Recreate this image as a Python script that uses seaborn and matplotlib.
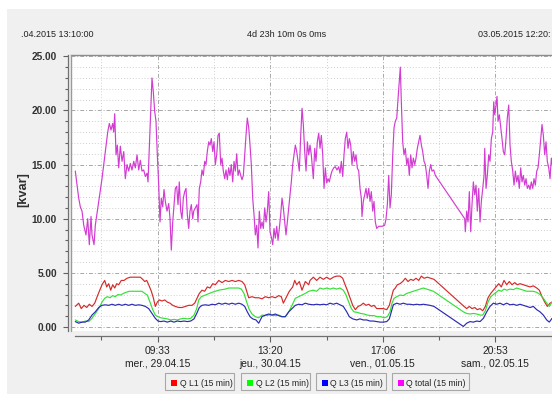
import numpy as np
import pandas as pd
import matplotlib
matplotlib.use("Agg")
import matplotlib.pyplot as plt
from matplotlib.patches import Rectangle
from matplotlib.lines import Line2D
from matplotlib.ticker import FixedLocator, FixedFormatter, MultipleLocator, FormatStrFormatter
import seaborn as sns

sns.set_theme(style="white")
plt.rcParams["font.family"] = ["Liberation Sans", "DejaVu Sans"]

# ---------------------------------------------------------------------------
# Reactive power, 15-minute averages. Time axis: hours since 28.04.2015 13:10
# ---------------------------------------------------------------------------
period_start = ".04.2015 13:10:00"
period_span = "4d 23h 10m 0s 0ms"
period_end = "03.05.2015 12:20:"
period_hours = 119.17

# Q total -------------------------------------------------------------------
qt_hours_a = [0.07, 0.91, 1.31, 1.73, 2.15, 2.71, 3.13, 3.53, 3.95, 4.19,
              4.69, 5.01, 5.85, 6.66, 7.48, 8.07, 8.46, 8.88, 9.30, 9.55,
              9.80, 10.12, 10.44, 10.78, 11.18, 11.60, 12.02, 12.41, 12.83, 13.25,
              13.64, 14.06, 14.48, 14.88, 15.30, 15.72, 16.11, 16.53, 16.95, 17.35,
              17.76, 18.01, 18.33, 18.75, 18.99, 19.32, 19.66, 19.98, 20.31, 20.65,
              20.97, 21.29, 21.64, 21.96, 22.28, 22.70, 23.12, 23.44, 23.76, 24.11,
              24.43, 24.75, 25.09, 25.41, 25.73, 26.08, 26.40, 26.72, 27.07, 27.39,
              27.71, 28.05, 28.37, 28.70, 29.04]
qt_kvar_a = [14.4, 11.9, 11.1, 10.7, 9.4, 8.5, 10.0, 7.6, 10.2, 8.5,
             7.6, 9.4, 11.6, 13.7, 16.2, 18.0, 18.8, 18.2, 18.8, 18.0,
             19.7, 15.9, 16.8, 14.7, 16.7, 15.3, 16.2, 13.7, 15.0, 14.4,
             15.1, 14.5, 15.3, 14.7, 15.9, 14.5, 15.4, 14.4, 14.5, 13.9,
             14.2, 13.4, 16.5, 20.5, 23.0, 21.7, 19.9, 19.0, 15.9, 13.1,
             9.7, 11.9, 11.1, 12.7, 11.6, 10.7, 11.4, 10.0, 7.1, 9.7,
             11.3, 12.8, 13.0, 11.3, 13.4, 10.7, 10.0, 11.9, 12.5, 12.8,
             10.4, 9.1, 10.7, 11.3, 10.0]
qt_hours_b = [29.29, 29.68, 30.10, 30.35, 30.67, 31.01, 31.33, 31.66, 32.00, 32.32,
              32.64, 32.99, 33.31, 33.63, 33.98, 34.30, 34.62, 34.96, 35.28, 35.60,
              35.95, 36.27, 36.59, 36.94, 37.26, 37.58, 37.92, 38.24, 38.56, 38.91,
              39.23, 39.55, 39.90, 40.22, 40.54, 40.88, 41.20, 41.53, 41.87, 42.19,
              42.51, 42.86, 43.18, 43.50, 43.84, 44.16, 44.49, 44.83, 45.15, 45.47,
              45.82, 46.14, 46.46, 46.81, 47.13, 47.45, 47.79, 48.11, 48.44, 48.78,
              49.10, 49.42, 49.77, 50.09, 50.41, 50.75, 51.07, 51.40, 51.74, 52.06,
              52.38, 52.73, 53.05, 53.37, 53.71, 54.03, 54.36, 54.70, 55.02, 55.34,
              55.69, 56.01, 56.33, 56.67, 57.00, 57.32, 57.66, 57.98, 58.30]
qt_kvar_b = [10.7, 11.0, 11.3, 9.7, 12.8, 13.4, 14.5, 14.0, 15.3, 15.0,
             16.2, 17.1, 16.8, 17.4, 16.2, 17.1, 15.0, 15.9, 17.7, 17.9,
             15.0, 15.6, 14.4, 13.7, 14.5, 13.6, 14.7, 14.0, 15.0, 13.4,
             15.3, 14.4, 16.0, 14.0, 14.5, 14.0, 13.6, 14.0, 15.9, 17.7,
             19.3, 18.4, 16.8, 15.0, 11.9, 10.4, 8.5, 9.4, 7.3, 10.7,
             9.1, 9.7, 9.1, 11.0, 9.7, 10.7, 12.5, 8.8, 8.3, 7.6,
             9.1, 8.2, 9.3, 8.0, 9.1, 10.4, 11.9, 11.0, 9.7, 8.5,
             9.7, 11.0, 12.2, 13.4, 15.0, 15.9, 16.8, 16.2, 15.3, 14.4,
             17.7, 20.2, 18.7, 16.2, 14.4, 17.1, 15.9, 16.8, 15.9]
qt_hours_c = [58.80, 59.14, 59.46, 59.78, 60.13, 60.45, 60.77, 61.12, 61.44, 61.76,
              62.10, 62.42, 62.74, 63.09, 63.41, 63.83, 64.22, 64.64, 65.06, 65.38,
              65.71, 66.05, 66.37, 66.69, 67.04, 67.36, 67.68, 68.02, 68.34, 68.67,
              69.01, 69.33, 69.65, 70.00, 70.32, 70.64, 70.81, 71.13, 71.48, 71.80,
              72.12, 72.47, 72.79, 73.11, 73.45, 73.77, 74.09, 74.44, 74.93, 75.75,
              76.41, 76.74, 77.06, 77.40, 77.72, 78.04, 78.39, 78.71, 79.03, 79.38,
              79.70, 80.02, 80.26, 80.51, 80.85, 81.17, 81.50, 81.84, 82.16, 82.48,
              82.83, 83.15, 83.47, 83.82, 84.14, 84.46, 84.80, 85.12, 85.45, 85.79,
              86.11, 86.43, 86.78, 87.10, 87.42, 87.76, 88.08, 88.50, 88.90]
qt_kvar_c = [13.7, 16.5, 15.3, 17.1, 17.9, 16.5, 17.7, 15.9, 12.8, 14.7,
             13.3, 13.7, 13.4, 14.0, 14.4, 14.7, 14.8, 14.5, 14.8, 14.2,
             15.3, 13.9, 15.9, 17.4, 18.0, 16.5, 17.4, 16.8, 15.0, 16.2,
             15.3, 15.9, 14.7, 14.4, 12.8, 11.9, 10.2, 11.6, 12.2, 12.8,
             11.9, 12.8, 11.6, 12.5, 10.7, 11.6, 9.7, 9.1, 9.3, 9.3,
             9.4, 10.0, 11.3, 14.0, 11.0, 12.2, 15.9, 18.4, 19.0, 19.3,
             21.1, 22.7, 24.0, 20.8, 17.1, 15.9, 16.5, 15.0, 15.6, 14.0,
             15.9, 14.7, 15.6, 15.0, 15.6, 16.5, 17.1, 17.7, 16.8, 16.2,
             15.3, 15.0, 14.0, 12.8, 14.4, 15.0, 14.4, 14.5, 14.0]
qt_hours_d = [96.15, 96.30, 96.64, 96.96, 97.29, 97.63, 97.95, 98.28, 98.62, 98.94,
              99.26, 99.61, 99.93, 100.25, 100.60, 100.92, 101.09, 101.41, 101.73, 102.07,
              102.39, 102.72, 103.06, 103.31, 103.56, 103.88, 104.12, 104.37, 104.69, 105.03,
              105.35, 105.68, 106.02, 106.34, 106.66, 107.01, 107.33, 107.65, 108.00, 108.32,
              108.64, 108.98, 109.30, 109.62, 109.97, 110.29, 110.61, 110.96, 111.28, 111.60,
              111.94, 112.26, 112.58, 112.93, 113.25, 113.57, 113.92, 114.24, 114.56, 114.90,
              115.22, 115.55, 115.89, 116.21, 116.53, 116.88, 117.20, 117.52, 117.86]
qt_kvar_d = [10.0, 8.8, 10.7, 9.7, 12.5, 8.8, 11.3, 13.4, 12.2, 13.1,
             10.7, 12.8, 9.7, 11.6, 12.8, 14.0, 16.5, 12.8, 14.0, 15.9,
             15.3, 17.4, 18.0, 20.8, 19.6, 20.5, 21.3, 19.0, 19.6, 18.5,
             17.4, 16.2, 15.9, 17.4, 19.3, 20.5, 16.8, 15.3, 14.4, 13.1,
             14.4, 13.4, 14.0, 12.8, 14.7, 13.4, 14.0, 13.1, 13.7, 12.8,
             13.1, 12.7, 13.4, 12.8, 13.7, 13.1, 14.4, 14.7, 15.9, 17.4,
             18.7, 17.7, 15.9, 17.1, 15.3, 14.7, 13.7, 15.6, 14.7]

# Q L1 ----------------------------------------------------------------------
l1_hours = [0.07, 0.91, 1.55, 2.22, 2.89, 3.53, 4.19, 4.86, 5.67, 6.66,
            7.33, 7.82, 8.31, 8.81, 9.30, 9.80, 10.29, 10.78, 11.42, 12.09,
            12.83, 13.64, 14.48, 15.30, 16.11, 16.70, 17.20, 17.69, 18.18, 18.83,
            19.32, 19.81, 20.31, 20.80, 21.47, 22.13, 22.77, 23.44, 24.11, 24.75,
            25.59, 26.40, 27.21, 28.05, 28.87, 29.53, 30.18, 30.67, 31.33, 32.00,
            32.64, 33.31, 33.98, 34.62, 35.46, 36.27, 37.08, 37.92, 38.74, 39.55,
            40.39, 41.20, 41.87, 42.36, 42.86, 43.67, 44.49, 45.32, 46.14, 46.95,
            47.79, 48.61, 49.42, 50.26, 50.90, 51.40, 52.06, 52.87, 53.71, 54.21,
            54.70, 55.34, 56.01, 56.82, 57.66, 57.98, 58.80, 59.63, 60.45, 61.26,
            62.10, 62.92, 63.73, 64.56, 65.38, 66.05, 66.54, 67.18, 67.85, 68.52,
            69.16, 69.83, 70.49, 71.13, 71.80, 72.47, 73.11, 73.77, 74.44, 75.25,
            76.07, 76.91, 77.55, 78.04, 78.54, 79.03, 79.52, 80.19, 80.85, 81.50,
            82.16, 82.83, 83.47, 84.14, 84.80, 85.45, 86.11, 86.93, 87.76, 88.58,
            95.98, 96.64, 97.29, 97.95, 98.62, 99.26, 99.93, 100.60, 101.24, 101.90,
            102.57, 103.21, 103.88, 104.54, 105.18, 105.85, 106.51, 107.16, 107.82, 108.49,
            109.13, 109.80, 110.61, 111.45, 112.26, 113.08, 113.92, 114.56, 115.22, 115.89,
            116.53, 117.20, 117.69]
l1_kvar = [1.9, 2.2, 1.7, 2.0, 1.8, 2.1, 1.9, 2.2, 3.0, 3.9,
           4.3, 3.7, 4.0, 3.4, 3.9, 3.6, 4.0, 3.9, 4.3, 4.3,
           4.5, 4.6, 4.6, 4.6, 4.6, 4.4, 4.2, 4.3, 3.9, 3.3,
           2.7, 1.9, 2.3, 2.5, 2.4, 2.5, 2.3, 2.2, 2.0, 1.9,
           1.8, 1.8, 1.9, 2.0, 2.0, 2.2, 2.7, 3.1, 3.4, 3.3,
           3.7, 3.6, 4.0, 3.9, 4.3, 4.1, 4.3, 4.2, 4.3, 4.2,
           4.3, 4.2, 3.9, 3.3, 2.7, 2.8, 2.7, 2.7, 2.6, 2.8,
           2.7, 2.8, 2.7, 2.9, 2.8, 2.2, 2.7, 3.3, 3.7, 4.3,
           3.9, 4.2, 3.4, 4.2, 3.9, 4.3, 4.6, 4.3, 4.6, 4.4,
           4.6, 4.4, 4.6, 4.7, 4.7, 4.5, 4.0, 3.4, 2.7, 2.0,
           1.6, 1.9, 2.0, 2.2, 2.0, 2.1, 1.9, 2.0, 1.7, 1.7,
           1.7, 1.6, 2.0, 2.7, 3.4, 3.6, 3.9, 4.0, 4.2, 4.5,
           4.2, 4.4, 4.3, 4.5, 4.3, 4.7, 4.5, 4.6, 4.5, 4.4,
           1.9, 1.7, 1.9, 1.7, 1.8, 1.6, 1.7, 1.5, 1.9, 2.7,
           3.1, 3.4, 3.7, 4.0, 3.7, 4.3, 3.9, 4.2, 3.9, 4.1,
           3.9, 4.0, 3.9, 3.8, 3.7, 3.8, 3.6, 3.4, 2.8, 2.3,
           1.9, 2.2, 2.3]

# Q L2 ----------------------------------------------------------------------
l2_hours = [0.07, 0.91, 1.73, 2.54, 3.38, 4.19, 5.01, 5.85, 6.66, 7.33,
            7.97, 8.64, 9.30, 9.94, 10.61, 11.28, 11.92, 12.58, 13.40, 14.24,
            15.05, 15.86, 16.53, 17.20, 17.84, 18.50, 19.17, 19.81, 20.48, 21.15,
            21.96, 22.77, 23.61, 24.43, 25.24, 26.08, 26.89, 27.71, 28.55, 29.36,
            30.03, 30.52, 31.16, 31.83, 32.49, 33.14, 33.80, 34.62, 35.46, 36.27,
            37.08, 37.92, 38.74, 39.55, 40.39, 41.03, 41.70, 42.36, 43.01, 43.67,
            44.49, 45.32, 46.14, 46.95, 47.79, 48.61, 49.42, 50.26, 51.07, 51.89,
            52.73, 53.54, 54.36, 55.19, 56.01, 56.82, 57.66, 58.80, 59.63, 60.45,
            61.26, 62.10, 62.92, 63.73, 64.56, 65.38, 66.20, 66.87, 67.53, 68.18,
            68.84, 69.65, 70.49, 71.31, 72.12, 72.96, 73.77, 74.59, 75.43, 76.24,
            77.06, 77.72, 78.21, 78.71, 79.38, 80.19, 81.01, 81.84, 82.66, 83.47,
            84.31, 85.12, 85.94, 86.78, 87.59, 88.42, 95.82, 96.64, 97.46, 98.28,
            99.11, 99.93, 100.60, 101.24, 101.90, 102.57, 103.21, 103.88, 104.54, 105.18,
            105.85, 106.51, 107.33, 108.15, 108.98, 109.80, 110.61, 111.45, 112.26, 113.08,
            113.92, 114.73, 115.55, 116.38, 117.02, 117.69]
l2_kvar = [0.65, 0.5, 0.45, 0.55, 0.5, 0.8, 1.25, 1.7, 2.3, 2.65,
           2.8, 2.7, 2.9, 2.8, 3.0, 2.95, 3.1, 3.2, 3.3, 3.3,
           3.3, 3.3, 3.3, 3.1, 2.95, 2.3, 1.6, 1.1, 0.95, 0.85,
           0.8, 0.75, 0.65, 0.7, 0.65, 0.75, 0.8, 0.75, 0.8, 1.1,
           1.7, 2.5, 2.8, 2.9, 3.0, 3.1, 3.2, 3.3, 3.4, 3.45,
           3.5, 3.6, 3.6, 3.6, 3.6, 3.5, 3.1, 2.3, 1.6, 1.2,
           0.95, 0.85, 1.1, 1.05, 1.1, 1.1, 1.05, 1.1, 0.95, 0.95,
           1.4, 2.0, 2.65, 2.8, 2.95, 3.1, 3.3, 3.4, 3.3, 3.6,
           3.5, 3.6, 3.5, 3.6, 3.5, 3.6, 3.4, 2.95, 2.3, 1.7,
           1.4, 1.35, 1.25, 1.2, 1.1, 1.05, 1.05, 0.95, 0.95, 0.85,
           0.95, 1.4, 2.2, 2.65, 2.8, 2.95, 2.9, 3.1, 3.2, 3.3,
           3.4, 3.5, 3.6, 3.5, 3.4, 3.3, 1.4, 1.25, 1.2, 1.25,
           1.2, 1.1, 1.1, 1.5, 2.3, 2.8, 3.0, 3.2, 3.4, 3.3,
           3.5, 3.4, 3.5, 3.45, 3.6, 3.5, 3.4, 3.3, 3.3, 3.3,
           3.2, 3.0, 2.65, 2.2, 1.9, 2.3]

# Q L3 ----------------------------------------------------------------------
l3_hours = [0.07, 0.91, 1.73, 2.54, 3.38, 4.19, 5.01, 5.85, 6.66, 7.48,
            8.31, 9.13, 9.94, 10.78, 11.60, 12.41, 13.25, 14.06, 14.88, 15.72,
            16.53, 17.35, 18.18, 19.00, 19.81, 20.48, 21.15, 21.96, 22.77, 23.61,
            24.43, 25.24, 26.08, 26.89, 27.71, 28.55, 29.36, 30.03, 30.67, 31.33,
            32.15, 32.99, 33.80, 34.62, 35.46, 36.27, 37.08, 37.92, 38.74, 39.55,
            40.39, 41.20, 41.87, 42.51, 43.18, 43.84, 44.65, 45.32, 46.14, 46.95,
            47.79, 48.61, 49.42, 50.26, 51.07, 51.89, 52.73, 53.54, 54.36, 55.19,
            56.01, 56.82, 57.66, 58.80, 59.63, 60.45, 61.26, 62.10, 62.92, 63.73,
            64.56, 65.38, 66.20, 67.04, 67.68, 68.52, 69.50, 70.32, 71.13, 71.97,
            72.79, 73.60, 74.44, 75.25, 76.07, 76.91, 77.55, 78.04, 78.54, 79.38,
            80.19, 81.01, 81.84, 82.66, 83.47, 84.31, 85.12, 85.94, 86.78, 87.59,
            88.58, 95.82, 96.64, 97.46, 98.28, 99.11, 99.93, 100.76, 101.58, 102.39,
            103.21, 104.04, 104.86, 105.68, 106.51, 107.33, 108.15, 108.98, 109.80, 110.61,
            111.45, 112.26, 113.08, 113.92, 114.73, 115.55, 116.38, 117.02, 117.69]
l3_kvar = [0.5, 0.35, 0.45, 0.45, 0.65, 1.1, 1.4, 1.8, 2.0, 2.05,
           2.0, 2.1, 2.0, 2.1, 2.0, 2.1, 2.0, 2.1, 2.0, 2.05,
           2.0, 1.9, 1.7, 1.25, 0.8, 0.55, 0.5, 0.55, 0.45, 0.55,
           0.45, 0.55, 0.5, 0.55, 0.5, 0.55, 0.75, 1.25, 1.8, 2.0,
           2.05, 2.0, 2.1, 2.05, 2.2, 2.1, 2.2, 2.1, 2.2, 2.1,
           2.2, 2.1, 1.9, 1.4, 0.95, 0.75, 0.65, 0.35, 0.95, 1.1,
           1.2, 1.1, 1.2, 1.05, 0.95, 0.95, 1.4, 1.7, 2.0, 2.1,
           2.05, 2.2, 2.1, 2.05, 2.1, 2.05, 2.1, 2.05, 2.2, 2.1,
           2.2, 2.05, 1.9, 1.4, 0.95, 0.75, 0.65, 0.75, 0.65, 0.65,
           0.55, 0.55, 0.5, 0.45, 0.45, 0.5, 0.75, 1.4, 2.05, 2.2,
           2.1, 2.2, 2.1, 2.1, 2.05, 2.1, 2.05, 2.1, 2.05, 2.0,
           1.9, 0.05, 0.35, 0.5, 0.45, 0.55, 0.5, 0.8, 1.4, 1.9,
           2.2, 2.1, 2.2, 2.05, 2.2, 2.05, 2.1, 2.0, 2.1, 2.0,
           1.9, 1.8, 1.9, 1.6, 1.4, 1.1, 0.65, 0.45, 0.8]

series_names = ["Q L1 (15 min)", "Q L2 (15 min)", "Q L3 (15 min)", "Q total (15 min)"]
line_colors = ["#d42a2a", "#35e035", "#2a2ab4", "#d23cd2"]
key_colors = ["#ff0000", "#00ff00", "#0000ff", "#ff00ff"]

# x tick positions (hours since start) and their labels
major_hours = [20.39, 48.17, 75.94, 103.72]
major_labels = ["09:33\nmer., 29.04.15", "13:20\njeu., 30.04.15",
                "17:06\nven., 01.05.15", "20:53\nsam., 02.05.15"]
minor_hours = [6.50, 34.28, 62.06, 89.83, 117.61]

# ---------------------------------------------------------------------------
frames = [
    pd.DataFrame({"hours": l1_hours, "kvar": l1_kvar, "series": series_names[0]}),
    pd.DataFrame({"hours": l2_hours, "kvar": l2_kvar, "series": series_names[1]}),
    pd.DataFrame({"hours": l3_hours, "kvar": l3_kvar, "series": series_names[2]}),
    pd.DataFrame({"hours": qt_hours_a + qt_hours_b + qt_hours_c + qt_hours_d,
                  "kvar": qt_kvar_a + qt_kvar_b + qt_kvar_c + qt_kvar_d,
                  "series": series_names[3]}),
]
df = pd.concat(frames, ignore_index=True)

W, H = 552, 394
fig = plt.figure(figsize=(W / 100, H / 100), dpi=100)
fig.patch.set_facecolor("white")


def fx(px):
    return px / W


def fy(py):
    return 1 - py / H


# light grey panel behind the chart
fig.add_artist(Rectangle((fx(7), 0), fx(W - 7), (H - 9) / H, transform=fig.transFigure,
                         facecolor="#f0f0f0", edgecolor="none", zorder=0))

ax = fig.add_axes([fx(71), fy(331), (560 - 71) / W, (331 - 55) / H])
ax.set_facecolor("white")

sns.lineplot(data=df, x="hours", y="kvar", hue="series", hue_order=series_names,
             palette=dict(zip(series_names, line_colors)), estimator=None, sort=False,
             linewidth=0.85, legend=False, ax=ax, zorder=3)

ax.set_xlim(-0.99, 119.66)
ax.set_ylim(-0.37, 25.12)
ax.set_xlabel("")
ax.set_ylabel("")

# y axis
ax.yaxis.set_major_locator(MultipleLocator(5))
ax.yaxis.set_minor_locator(MultipleLocator(1))
ax.yaxis.set_major_formatter(FormatStrFormatter("%.2f"))
# x axis
ax.xaxis.set_major_locator(FixedLocator(major_hours))
ax.xaxis.set_major_formatter(FixedFormatter(major_labels))
ax.xaxis.set_minor_locator(FixedLocator(minor_hours))

ax.grid(which="major", axis="both", color="#a8a8a8", linestyle=(0, (4, 2, 1, 2)), linewidth=0.7)
ax.grid(which="minor", axis="both", color="#cfcfcf", linestyle=(0, (1, 2)), linewidth=0.7)
ax.set_axisbelow(True)

ax.spines["right"].set_visible(False)
ax.spines["top"].set_color("#8c8c8c")
ax.spines["top"].set_linewidth(1.0)
ax.spines["left"].set_position(("outward", 2.2))
ax.spines["left"].set_color("#707070")
ax.spines["left"].set_linewidth(0.9)
ax.spines["bottom"].set_position(("outward", 3.6))
ax.spines["bottom"].set_bounds(0, period_hours)
ax.spines["bottom"].set_color("#707070")
ax.spines["bottom"].set_linewidth(0.9)
# inner frame edge of the plotting area
ax.add_line(Line2D([0, 0], [0, 1], transform=ax.transAxes, color="#9a9a9a",
                   linewidth=1.0, clip_on=False, zorder=4))

ax.tick_params(axis="y", which="major", direction="out", length=3.6, width=0.8,
               color="#606060", pad=4.2, labelsize=7.3, labelcolor="#333333", left=True)
ax.tick_params(axis="y", which="minor", direction="out", length=2.0, width=0.8,
               color="#606060", left=True)
ax.tick_params(axis="x", which="major", direction="out", length=4.3, width=0.8,
               color="#606060", pad=3.0, labelsize=7.4, labelcolor="#222222", bottom=True)
ax.tick_params(axis="x", which="minor", direction="out", length=2.9, width=0.8,
               color="#606060", bottom=True)
for lbl in ax.get_yticklabels():
    lbl.set_fontweight("bold")
for lbl in ax.get_xticklabels():
    lbl.set_linespacing(1.35)

# unit label
fig.text(fx(23), fy(190), "[kvar]", rotation=90, ha="center", va="center",
         fontsize=9.3, fontweight="bold", color="#303030")

# period header
fig.text(fx(21), fy(34.5), period_start, ha="left", va="center", fontsize=6.5, color="#222222")
fig.text(fx(287), fy(34.5), period_span, ha="center", va="center", fontsize=6.5, color="#222222")
fig.text(fx(550), fy(34.5), period_end, ha="right", va="center", fontsize=6.5, color="#222222")

# series keys, one framed box each
box_x = [(165, 234), (241, 310), (316, 386), (392, 469)]
for (x0, x1), name, col in zip(box_x, series_names, key_colors):
    fig.add_artist(Rectangle((fx(x0), fy(390)), (x1 - x0) / W, 17 / H, transform=fig.transFigure,
                             facecolor="#f0f0f0", edgecolor="#a8a8a8", linewidth=0.8))
    fig.add_artist(Rectangle((fx(x0 + 6), fy(386)), 6 / W, 6 / H, transform=fig.transFigure,
                             facecolor=col, edgecolor="none"))
    fig.text(fx(x0 + 14.5), fy(383), name, ha="left", va="center", fontsize=6.2, color="#222222")

fig.savefig("out.png", dpi=100)
